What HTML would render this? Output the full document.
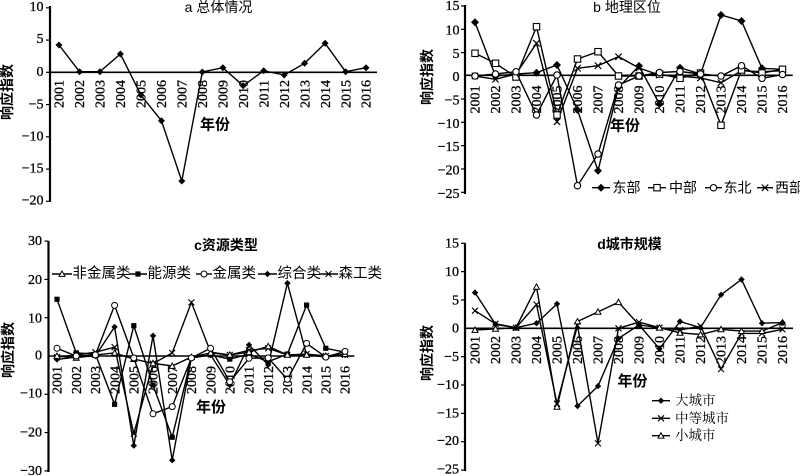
<!DOCTYPE html>
<html><head><meta charset="utf-8"><style>
html,body{margin:0;padding:0;background:#fff;}
svg{display:block;}
.n{font-family:"Liberation Serif",serif;font-size:14px;fill:#000;stroke:#000;stroke-width:0.3;}
.cj{font-family:"Liberation Sans","Noto Sans CJK SC",sans-serif;fill:#000;}
.cs{font-family:"Liberation Serif","Noto Serif CJK SC",serif;fill:#000;}
.s{fill:none;stroke:#000;stroke-width:1.4;stroke-linejoin:miter;}
.ax{stroke:#000;stroke-width:2.2;}
.z{stroke:#000;stroke-width:1.6;}
.tk{stroke:#000;stroke-width:1.2;}
</style></head><body>
<svg width="800" height="476" viewBox="0 0 800 476" xmlns="http://www.w3.org/2000/svg">
<defs>
<marker id="dA" viewBox="-6 -6 12 12" markerWidth="12" markerHeight="12" refX="0" refY="0" markerUnits="userSpaceOnUse" overflow="visible"><path d="M0-3.5L3.5 0 0 3.5-3.5 0Z"/></marker>
<marker id="dB" viewBox="-6 -6 12 12" markerWidth="12" markerHeight="12" refX="0" refY="0" markerUnits="userSpaceOnUse" overflow="visible"><path d="M0-4L4 0 0 4-4 0Z"/></marker>
<marker id="sB" viewBox="-6 -6 12 12" markerWidth="12" markerHeight="12" refX="0" refY="0" markerUnits="userSpaceOnUse" overflow="visible"><rect x="-3.2" y="-3.2" width="6.4" height="6.4" fill="#fff" stroke="#000" stroke-width="1.1"/></marker>
<marker id="cB" viewBox="-6 -6 12 12" markerWidth="12" markerHeight="12" refX="0" refY="0" markerUnits="userSpaceOnUse" overflow="visible"><circle r="3.2" fill="#fff" stroke="#000" stroke-width="1.1"/></marker>
<marker id="xB" viewBox="-6 -6 12 12" markerWidth="12" markerHeight="12" refX="0" refY="0" markerUnits="userSpaceOnUse" overflow="visible"><path d="M-3.2-3.2L3.2 3.2M-3.2 3.2L3.2-3.2" stroke="#000" stroke-width="1.2"/></marker>
<marker id="tC" viewBox="-6 -6 12 12" markerWidth="12" markerHeight="12" refX="0" refY="0" markerUnits="userSpaceOnUse" overflow="visible"><path d="M0-3L3 2.4-3 2.4Z" fill="#fff" stroke="#000" stroke-width="1"/></marker>
<marker id="qC" viewBox="-6 -6 12 12" markerWidth="12" markerHeight="12" refX="0" refY="0" markerUnits="userSpaceOnUse" overflow="visible"><rect x="-2.6" y="-2.6" width="5.2" height="5.2"/></marker>
<marker id="cC" viewBox="-6 -6 12 12" markerWidth="12" markerHeight="12" refX="0" refY="0" markerUnits="userSpaceOnUse" overflow="visible"><circle r="3" fill="#fff" stroke="#000" stroke-width="1"/></marker>
<marker id="dC" viewBox="-6 -6 12 12" markerWidth="12" markerHeight="12" refX="0" refY="0" markerUnits="userSpaceOnUse" overflow="visible"><path d="M0-3.2L3.2 0 0 3.2-3.2 0Z"/></marker>
<marker id="xC" viewBox="-6 -6 12 12" markerWidth="12" markerHeight="12" refX="0" refY="0" markerUnits="userSpaceOnUse" overflow="visible"><path d="M-3-3L3 3M-3 3L3-3" stroke="#000" stroke-width="1.1"/></marker>
</defs>

<!-- ================= Panel a ================= -->
<line class="ax" x1="50" y1="6" x2="50" y2="202"/>
<g class="tk"><line x1="46" y1="7.8" x2="50" y2="7.8"/><line x1="46" y1="40.1" x2="50" y2="40.1"/><line x1="46" y1="72.3" x2="50" y2="72.3"/><line x1="46" y1="104.6" x2="50" y2="104.6"/><line x1="46" y1="136.8" x2="50" y2="136.8"/><line x1="46" y1="169.1" x2="50" y2="169.1"/><line x1="46" y1="201.3" x2="50" y2="201.3"/></g>
<line class="z" x1="50" y1="72.3" x2="377" y2="72.3"/>
<g class="n" text-anchor="end" dominant-baseline="central">
<text x="43.5" y="7.3">10</text><text x="43.5" y="39.6">5</text><text x="43.5" y="72.6">0</text><text x="43.5" y="104.8">−5</text><text x="43.5" y="136.8">−10</text><text x="43.5" y="169.1">−15</text><text x="43.5" y="201">−20</text>
</g>
<g class="n" text-anchor="end" transform="translate(63.7,80) rotate(-90)">
<text y="0">2001</text><text y="20.47">2002</text><text y="40.94">2003</text><text y="61.41">2004</text><text y="81.88">2005</text><text y="102.35">2006</text><text y="122.82">2007</text><text y="143.29">2008</text><text y="163.76">2009</text><text y="184.23">2010</text><text y="204.7">2011</text><text y="225.17">2012</text><text y="245.64">2013</text><text y="266.11">2014</text><text y="286.58">2015</text><text y="307.05">2016</text>
</g>
<polyline class="s" marker-start="url(#dA)" marker-mid="url(#dA)" marker-end="url(#dA)" points="59,45 79.5,71.7 99.9,71.7 120.4,54 140.9,95 161.4,120.7 181.8,181 202.3,72 222.8,67.7 243.2,85.7 263.7,70.7 284.2,75 304.6,63.3 325.1,43.3 345.6,71.7 366,67.7"/>
<text class="cj" x="218.5" y="7" font-size="14" text-anchor="middle" dominant-baseline="central">a 总体情况</text>
<text class="cj" x="215" y="125" font-size="15" font-weight="bold" text-anchor="middle" dominant-baseline="central">年份</text>
<text class="cj" font-size="14" font-weight="bold" text-anchor="middle" dominant-baseline="central" transform="translate(7,92) rotate(-90)">响应指数</text>

<!-- ================= Panel b ================= -->
<line class="ax" x1="465" y1="5" x2="465" y2="194"/>
<g class="tk"><line x1="461" y1="6" x2="465" y2="6"/><line x1="461" y1="29.3" x2="465" y2="29.3"/><line x1="461" y1="52.6" x2="465" y2="52.6"/><line x1="461" y1="99" x2="465" y2="99"/><line x1="461" y1="122.3" x2="465" y2="122.3"/><line x1="461" y1="145.7" x2="465" y2="145.7"/><line x1="461" y1="169" x2="465" y2="169"/><line x1="461" y1="192.3" x2="465" y2="192.3"/></g>
<line class="z" x1="465" y1="75.3" x2="792.7" y2="75.3"/>
<g class="n" text-anchor="end" dominant-baseline="central">
<text x="459.5" y="6.7">15</text><text x="459.5" y="31">10</text><text x="459.5" y="54.3">5</text><text x="459.5" y="77.7">0</text><text x="459.5" y="101">−5</text><text x="459.5" y="124.3">−10</text><text x="459.5" y="147.7">−15</text><text x="459.5" y="171">−20</text><text x="459.5" y="194.3">−25</text>
</g>
<g class="n" text-anchor="end" transform="translate(479.7,85.5) rotate(-90)">
<text y="0">2001</text><text y="20.5">2002</text><text y="41">2003</text><text y="61.5">2004</text><text y="82">2005</text><text y="102.5">2006</text><text y="123">2007</text><text y="143.5">2008</text><text y="164">2009</text><text y="184.5">2010</text><text y="205">2011</text><text y="225.5">2012</text><text y="246">2013</text><text y="266.5">2014</text><text y="287">2015</text><text y="307.5">2016</text>
</g>
<polyline class="s" marker-start="url(#xB)" marker-mid="url(#xB)" marker-end="url(#xB)" points="475,76 495.5,79.3 516,74 536.5,43.3 557,121.7 577.5,68.3 598,65.7 618.5,56.7 639,68 659.5,75 680,76 700.5,78 721,82.7 741.5,70.7 762,71.7 782.5,70.7"/>
<polyline class="s" marker-start="url(#dB)" marker-mid="url(#dB)" marker-end="url(#dB)" points="475,22.3 495.5,76 516,74 536.5,72.7 557,65 577.5,110 598,170.7 618.5,87.3 639,66 659.5,104 680,67.7 700.5,74 721,15 741.5,21 762,68.3 782.5,69.3"/>
<polyline class="s" marker-start="url(#sB)" marker-mid="url(#sB)" marker-end="url(#sB)" points="475,53.3 495.5,63.3 516,77 536.5,26.7 557,115 577.5,59 598,51.7 618.5,76 639,76 659.5,74 680,78.3 700.5,73 721,125.3 741.5,70 762,73 782.5,69.3"/>
<polyline class="s" marker-start="url(#cB)" marker-mid="url(#cB)" marker-end="url(#cB)" points="475,76 495.5,74 516,71.7 536.5,115 557,75 577.5,185.7 598,154 618.5,85 639,76 659.5,72.5 680,71.5 700.5,74 721,76 741.5,65.7 762,78.3 782.5,74.5"/>
<text class="cj" x="627" y="7" font-size="14" text-anchor="middle" dominant-baseline="central">b 地理区位</text>
<text class="cj" x="625" y="126" font-size="15" font-weight="bold" text-anchor="middle" dominant-baseline="central">年份</text>
<text class="cj" font-size="14" font-weight="bold" text-anchor="middle" dominant-baseline="central" transform="translate(427,77) rotate(-90)">响应指数</text>
<!-- legend b -->
<polyline class="s" marker-mid="url(#dB)" points="592,187.7 601,187.7 610,187.7"/>
<text class="cj" x="612.5" y="187.7" font-size="14" dominant-baseline="central">东部</text>
<polyline class="s" marker-mid="url(#sB)" points="648,187.7 657,187.7 666,187.7"/>
<text class="cj" x="669" y="187.7" font-size="14" dominant-baseline="central">中部</text>
<polyline class="s" marker-mid="url(#cB)" points="705,187.7 713.5,187.7 722,187.7"/>
<text class="cj" x="723.5" y="187.7" font-size="14" dominant-baseline="central">东北</text>
<polyline class="s" marker-mid="url(#xB)" points="757,187.7 765,187.7 773,187.7"/>
<text class="cj" x="775" y="187.7" font-size="14" dominant-baseline="central">西部</text>

<!-- ================= Panel c ================= -->
<line class="ax" x1="48.5" y1="241" x2="48.5" y2="472"/>
<g class="tk"><line x1="44.5" y1="241.1" x2="48.5" y2="241.1"/><line x1="44.5" y1="279.4" x2="48.5" y2="279.4"/><line x1="44.5" y1="317.7" x2="48.5" y2="317.7"/><line x1="44.5" y1="394.3" x2="48.5" y2="394.3"/><line x1="44.5" y1="432.6" x2="48.5" y2="432.6"/><line x1="44.5" y1="470.9" x2="48.5" y2="470.9"/></g>
<line class="z" x1="48.5" y1="356" x2="354.5" y2="356"/>
<g class="n" text-anchor="end" dominant-baseline="central">
<text x="42" y="241.7">30</text><text x="42" y="280.7">20</text><text x="42" y="319">10</text><text x="42" y="356">0</text><text x="42" y="394">−10</text><text x="42" y="433">−20</text><text x="42" y="471.5">−30</text>
</g>
<g class="n" text-anchor="end" transform="translate(61.7,366) rotate(-90)">
<text y="0">2001</text><text y="19.2">2002</text><text y="38.4">2003</text><text y="57.6">2004</text><text y="76.8">2005</text><text y="96">2006</text><text y="115.2">2007</text><text y="134.4">2008</text><text y="153.6">2009</text><text y="172.8">2010</text><text y="192">2011</text><text y="211.2">2012</text><text y="230.4">2013</text><text y="249.6">2014</text><text y="268.8">2015</text><text y="288">2016</text>
</g>
<polyline class="s" marker-start="url(#xC)" marker-mid="url(#xC)" marker-end="url(#xC)" points="57,357.1 76.2,354.9 95.4,352.2 114.6,347.2 133.8,433.7 153,363.7 172.2,352.9 191.4,302.4 210.6,352.2 229.8,354.9 249,350.3 268.2,348.3 287.4,354.9 306.6,354.1 325.8,356 345,354.9"/>
<polyline class="s" marker-start="url(#qC)" marker-mid="url(#qC)" marker-end="url(#qC)" points="57,299.3 76.2,352.9 95.4,354.1 114.6,404.3 133.8,325.7 153,385.1 172.2,437.2 191.4,357.9 210.6,354.9 229.8,359.1 249,354.1 268.2,361.7 287.4,354.1 306.6,305.1 325.8,348.3 345,352.2"/>
<polyline class="s" marker-start="url(#dC)" marker-mid="url(#dC)" marker-end="url(#dC)" points="57,359.4 76.2,357.1 95.4,356 114.6,326.9 133.8,445.6 153,335.7 172.2,460.2 191.4,357.9 210.6,354.9 229.8,385.1 249,344.9 268.2,364.8 287.4,283.2 306.6,354.9 325.8,357.1 345,354.9"/>
<polyline class="s" marker-start="url(#tC)" marker-mid="url(#tC)" marker-end="url(#tC)" points="57,356 76.2,357.9 95.4,354.9 114.6,352.9 133.8,359.1 153,363.3 172.2,366 191.4,357.1 210.6,352.9 229.8,354.9 249,352.2 268.2,346.4 287.4,354.9 306.6,354.9 325.8,356 345,354.1"/>
<polyline class="s" marker-start="url(#cC)" marker-mid="url(#cC)" marker-end="url(#cC)" points="57,348.3 76.2,356 95.4,354.9 114.6,305.4 133.8,357.9 153,413.8 172.2,406.6 191.4,357.9 210.6,348.3 229.8,381.7 249,358.3 268.2,357.9 287.4,379.4 306.6,343.4 325.8,357.1 345,351.4"/>
<text class="cj" x="226" y="245" font-size="14" text-anchor="middle" dominant-baseline="central" font-weight="bold">c资源类型</text>
<text class="cj" x="211" y="407.7" font-size="15" font-weight="bold" text-anchor="middle" dominant-baseline="central">年份</text>
<text class="cj" font-size="14" font-weight="bold" text-anchor="middle" dominant-baseline="central" transform="translate(8,350) rotate(-90)">响应指数</text>
<!-- legend c -->
<polyline class="s" marker-mid="url(#tC)" points="52,274 62,274 72,274"/>
<text class="cj" x="72.5" y="274" font-size="14.5" dominant-baseline="central">非金属类</text>
<polyline class="s" marker-mid="url(#qC)" points="129,274 138,274 147,274"/>
<text class="cj" x="147.5" y="274" font-size="14.5" dominant-baseline="central">能源类</text>
<polyline class="s" marker-mid="url(#cC)" points="196,274 204,274 212,274"/>
<text class="cj" x="212.5" y="274" font-size="14.5" dominant-baseline="central">金属类</text>
<polyline class="s" marker-mid="url(#dC)" points="258,274 267.5,274 277,274"/>
<text class="cj" x="277.5" y="274" font-size="14.5" dominant-baseline="central">综合类</text>
<polyline class="s" marker-mid="url(#xC)" points="319,274 328.5,274 338,274"/>
<text class="cj" x="338.5" y="274" font-size="14.5" dominant-baseline="central">森工类</text>

<!-- ================= Panel d ================= -->
<line class="ax" x1="465" y1="243" x2="465" y2="471"/>
<g class="tk"><line x1="461" y1="243.3" x2="465" y2="243.3"/><line x1="461" y1="271.6" x2="465" y2="271.6"/><line x1="461" y1="300" x2="465" y2="300"/><line x1="461" y1="356.7" x2="465" y2="356.7"/><line x1="461" y1="385" x2="465" y2="385"/><line x1="461" y1="413.4" x2="465" y2="413.4"/><line x1="461" y1="441.7" x2="465" y2="441.7"/><line x1="461" y1="470.1" x2="465" y2="470.1"/></g>
<line class="z" x1="465" y1="328.3" x2="793" y2="328.3"/>
<g class="n" text-anchor="end" dominant-baseline="central">
<text x="459" y="244">15</text><text x="459" y="272.3">10</text><text x="459" y="301">5</text><text x="459" y="329">0</text><text x="459" y="357.3">−5</text><text x="459" y="385.7">−10</text><text x="459" y="414">−15</text><text x="459" y="441.7">−20</text><text x="459" y="470">−25</text>
</g>
<g class="n" text-anchor="end" transform="translate(479.7,336) rotate(-90)">
<text y="0">2001</text><text y="20.5">2002</text><text y="41">2003</text><text y="61.5">2004</text><text y="82">2005</text><text y="102.5">2006</text><text y="123">2007</text><text y="143.5">2008</text><text y="164">2009</text><text y="184.5">2010</text><text y="205">2011</text><text y="225.5">2012</text><text y="246">2013</text><text y="266.5">2014</text><text y="287">2015</text><text y="307.5">2016</text>
</g>
<polyline class="s" marker-start="url(#xC)" marker-mid="url(#xC)" marker-end="url(#xC)" points="475,310.7 495.5,323.8 516,327.7 536.5,304.5 557,403.7 577.5,325.5 598,443.4 618.5,328.3 639,322.1 659.5,327.7 680,330 700.5,326 721,369.1 741.5,333.4 762,333.4 782.5,329.4"/>
<polyline class="s" marker-start="url(#tC)" marker-mid="url(#tC)" marker-end="url(#tC)" points="475,330 495.5,328.9 516,327.7 536.5,286.9 557,406.8 577.5,321.5 598,311.9 618.5,302.2 639,324.9 659.5,327.7 680,332.8 700.5,334.5 721,329.4 741.5,331.1 762,331.1 782.5,322.6"/>
<polyline class="s" marker-start="url(#dC)" marker-mid="url(#dC)" marker-end="url(#dC)" points="475,292.6 495.5,324.3 516,327.7 536.5,323.2 557,303.9 577.5,406 598,386.1 618.5,338.5 639,324.9 659.5,348.7 680,321.5 700.5,327.7 721,294.8 741.5,279.5 762,323.2 782.5,322.6"/>
<text class="cj" x="629.5" y="244" font-size="14" text-anchor="middle" dominant-baseline="central" font-weight="bold">d城市规模</text>
<text class="cj" x="632.5" y="381.7" font-size="15" font-weight="bold" text-anchor="middle" dominant-baseline="central">年份</text>
<text class="cj" font-size="14" font-weight="bold" text-anchor="middle" dominant-baseline="central" transform="translate(427,353) rotate(-90)">响应指数</text>
<!-- legend d -->
<polyline class="s" marker-mid="url(#dC)" points="652,400.7 661,400.7 670,400.7"/>
<text class="cs" x="675" y="400.7" font-size="13.5" dominant-baseline="central">大城市</text>
<polyline class="s" marker-mid="url(#xC)" points="652,418.3 661,418.3 670,418.3"/>
<text class="cs" x="675" y="418.3" font-size="13.5" dominant-baseline="central">中等城市</text>
<polyline class="s" marker-mid="url(#tC)" points="652,435.7 661,435.7 670,435.7"/>
<text class="cs" x="675" y="435.7" font-size="13.5" dominant-baseline="central">小城市</text>
</svg>
</body></html>
